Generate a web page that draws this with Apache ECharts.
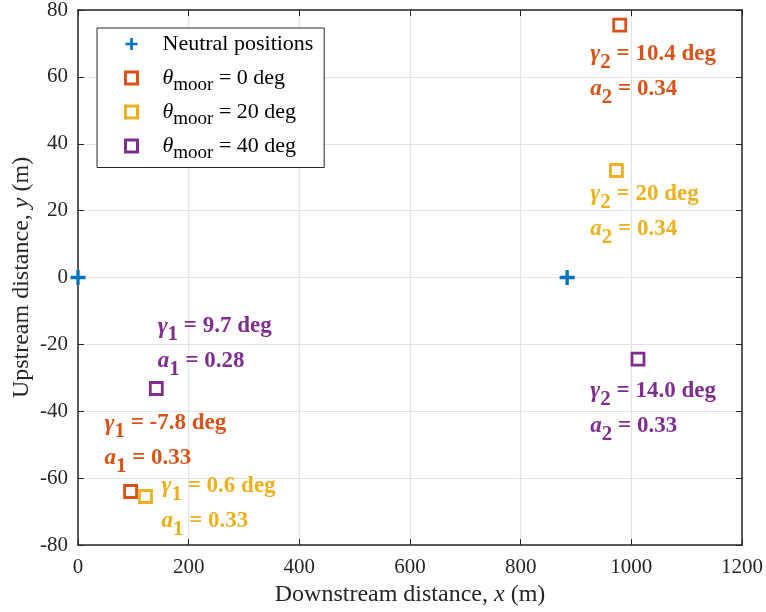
<!DOCTYPE html>
<html><head><meta charset="utf-8">
<script src="https://cdn.jsdelivr.net/npm/echarts@6/dist/echarts.min.js"></script>
<style>html,body{margin:0;padding:0;background:#fff}#c{width:766px;height:612px}</style>
</head><body><div id="c"></div>
<script>
// ---- data ----
var neutralX = [0, 884];
var neutralY = [0, 0];
var moor0X = [95, 979];
var moor0Y = [-64, 75.5];
var moor20X = [122, 973];
var moor20Y = [-65.5, 32];
var moor40X = [141.5, 1012];
var moor40Y = [-33.2, -24.4];
var seriesNames = ['Neutral positions', 'θmoor = 0 deg', 'θmoor = 20 deg', 'θmoor = 40 deg'];
var xTicks = [0, 200, 400, 600, 800, 1000, 1200];
var yTicks = [-80, -60, -40, -20, 0, 20, 40, 60, 80];
// annotation text (anchor in data coords: left edge, vertical centre)
var annX = [925, 925, 143, 47, 150, 925];
var annY = [61.7, 19.8, -19.9, -48.9, -67.5, -39.2];
var annSub = ['2', '2', '1', '1', '1', '2'];
var annGamma = ['10.4', '20', '9.7', '-7.8', '0.6', '14.0'];
var annA = ['0.34', '0.34', '0.28', '0.33', '0.33', '0.33'];
var annColor = ['#D95319', '#EDB120', '#7E2F8E', '#D95319', '#EDB120', '#7E2F8E'];

var C = { blue: '#0072BD', orange: '#D95319', yellow: '#EDB120', purple: '#7E2F8E' };
var FONT = 'Liberation Serif';

function zip(xs, ys) { return xs.map(function (x, i) { return [x, ys[i]]; }); }

var plusPath = 'path://M7,0H11V7H18V11H11V18H7V11H0V7H7Z';

function sq(name, xs, ys, col) {
  return {
    name: name, type: 'scatter', symbol: 'rect', symbolSize: 12,
    itemStyle: { color: '#fff', borderColor: col, borderWidth: 2.8, opacity: 1 },
    data: zip(xs, ys), z: 5
  };
}

function annRich(col) {
  var base = { fontFamily: FONT, fontWeight: 'bold', color: col, fontSize: 23, lineHeight: 35 };
  return {
    g: Object.assign({}, base, { fontStyle: 'italic', fontWeight: 'bold', fontSize: 24 }),
    a: Object.assign({}, base, { fontStyle: 'italic' }),
    s: Object.assign({}, base, { fontSize: 21, padding: [17, 0, 0, 0] }),
    t: base
  };
}

var annData = annX.map(function (x, i) {
  return {
    value: [x, annY[i]],
    label: {
      show: true, position: 'right', distance: 0, align: 'left', verticalAlign: 'middle',
      formatter: '{g|γ}{s|' + annSub[i] + '}{t| = ' + annGamma[i] + ' deg}\n{a|a}{s|' + annSub[i] + '}{t| = ' + annA[i] + '}',
      rich: annRich(annColor[i])
    }
  };
});

var legendRich = {
  th: { fontFamily: FONT, fontSize: 22, fontStyle: 'italic', color: '#000' },
  sb: { fontFamily: FONT, fontSize: 19, color: '#000', padding: [14, 0, 0, 0] },
  n: { fontFamily: FONT, fontSize: 22, color: '#000' }
};

var axisLabelStyle = { fontFamily: FONT, fontSize: 21, color: '#262626' };
var nameStyle = { fontFamily: FONT, fontSize: 24, color: '#262626', rich: { i: { fontFamily: FONT, fontSize: 24, fontStyle: 'italic', color: '#262626' } } };

var legendIconStyles = [
  { color: C.blue, borderWidth: 0, opacity: 1 },
  { color: '#fff', borderColor: C.orange, borderWidth: 3, opacity: 1 },
  { color: '#fff', borderColor: C.yellow, borderWidth: 3, opacity: 1 },
  { color: '#fff', borderColor: C.purple, borderWidth: 3, opacity: 1 }
];

var option = {
  animation: false,
  backgroundColor: '#fff',
  grid: { left: 78, right: 24, top: 10, bottom: 67, show: false, outerBoundsMode: 'none', containLabel: false },
  legend: {
    left: 97, top: 28, orient: 'vertical', itemGap: 6.5,
    padding: [5, 6, 5, 27],
    backgroundColor: '#fff', borderColor: '#262626', borderWidth: 1, borderRadius: 0,
    itemWidth: 12, itemHeight: 12,
    data: seriesNames.map(function (n, i) {
      return i === 0 ? { name: n, icon: plusPath, itemStyle: legendIconStyles[0] } : { name: n, icon: 'rect', itemStyle: legendIconStyles[i] };
    }),
    formatter: function (n) {
      if (n.indexOf('θmoor') === 0) return '{th|θ}{sb|moor}{n|' + n.slice(5) + '}';
      return '{n|' + n + '}{sb| }';
    },
    textStyle: { rich: legendRich, padding: [0, 0, 0, 20] }
  },
  xAxis: [{
    type: 'value', min: 0, max: 1200, interval: 200,
    name: 'Downstream distance, {i|x} (m)', nameLocation: 'middle', nameGap: 38, nameMoveOverlap: false,
    nameTextStyle: nameStyle,
    axisLine: { show: true, onZero: false, lineStyle: { color: '#262626', width: 1.5 } },
    axisTick: { show: true, inside: true, length: 6, lineStyle: { color: '#262626' } },
    axisLabel: Object.assign({ margin: 12, formatter: function (v) { return xTicks.indexOf(v) >= 0 ? String(v) : ''; } }, axisLabelStyle),
    splitLine: { show: true, lineStyle: { color: '#e3e3e3', width: 1.2 } }
  }, {
    type: 'value', min: 0, max: 1200, interval: 200, position: 'top',
    axisLine: { show: true, onZero: false, lineStyle: { color: '#262626', width: 1.5 } },
    axisTick: { show: true, inside: true, length: 6, lineStyle: { color: '#262626' } },
    axisLabel: { show: false }, splitLine: { show: false }
  }],
  yAxis: [{
    type: 'value', min: -80, max: 80, interval: 20,
    name: 'Upstream distance, {i|y} (m)', nameLocation: 'middle', nameGap: 44, nameMoveOverlap: false,
    nameTextStyle: nameStyle,
    axisLine: { show: true, onZero: false, lineStyle: { color: '#262626', width: 1.5 } },
    axisTick: { show: true, inside: true, length: 6, lineStyle: { color: '#262626' } },
    axisLabel: Object.assign({ margin: 10, formatter: function (v) { return yTicks.indexOf(v) >= 0 ? String(v) : ''; } }, axisLabelStyle),
    splitLine: { show: true, lineStyle: { color: '#e3e3e3', width: 1.2 } }
  }, {
    type: 'value', min: -80, max: 80, interval: 20, position: 'right',
    axisLine: { show: true, onZero: false, lineStyle: { color: '#262626', width: 1.5 } },
    axisTick: { show: true, inside: true, length: 6, lineStyle: { color: '#262626' } },
    axisLabel: { show: false }, splitLine: { show: false }
  }],
  series: [
    {
      name: seriesNames[0], type: 'scatter', symbol: plusPath, symbolSize: 15,
      itemStyle: { color: C.blue, opacity: 1 }, data: zip(neutralX, neutralY), z: 6, clip: false
    },
    sq(seriesNames[1], moor0X, moor0Y, C.orange),
    sq(seriesNames[2], moor20X, moor20Y, C.yellow),
    sq(seriesNames[3], moor40X, moor40Y, C.purple),
    {
      name: 'annotations', type: 'scatter', symbolSize: 1, silent: true,
      itemStyle: { color: 'rgba(0,0,0,0)', opacity: 1 }, data: annData, z: 4
    }
  ]
};
var chart = echarts.init(document.getElementById('c'), null, { renderer: 'canvas' });
chart.setOption(option);
</script></body></html>
